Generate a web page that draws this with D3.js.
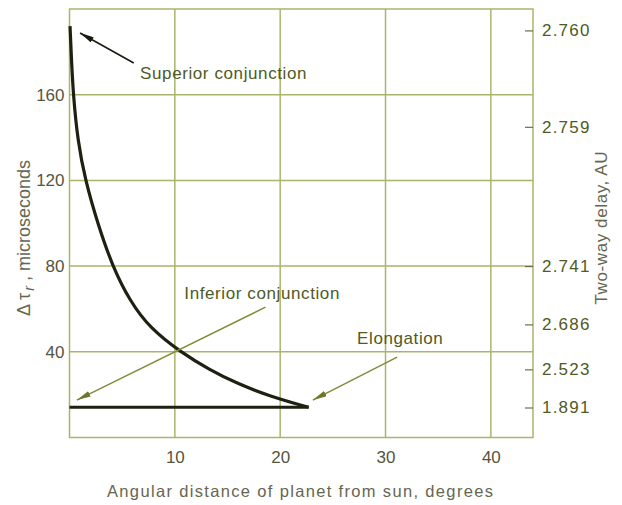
<!DOCTYPE html>
<html><head><meta charset="utf-8">
<script src="https://cdn.jsdelivr.net/npm/d3@7"></script>
<style>body{margin:0;background:#fff}svg{display:block}text{font-family:"Liberation Sans",Arial,sans-serif}</style>
</head><body><svg id="c" width="622" height="505"></svg>
<script>
// Data
const xTicks = [10, 20, 30, 40];
const yTicks = [40, 80, 120, 160];
const curveDeg = [0.05, 0.2, 0.36, 0.78, 1.5, 2.7, 4.07, 5.75, 7.65, 10.5, 13.3, 15.9, 19.0, 22.7];
const curveDelay = [192, 175, 160, 138.5, 120, 99.5, 80, 63.5, 51, 40, 31.6, 25.2, 19.3, 14.1];
const flatDeg = [0, 22.7];
const flatDelay = [14.1, 14.1];
const rightTickLabels = ["2.760", "2.759", "2.741", "2.686", "2.523", "1.891"];
const rightTickAt = [190, 145, 80, 52.8, 31.8, 14];
const annLabels = ["Superior conjunction", "Inferior conjunction", "Elongation"];
const annTextDeg = [6.7, 10.9, 27.3];
const annTextVal = [170, 67.3, 46.3];
const annFromDeg = [6.1, 18.6, 31.1];
const annFromVal = [174.8, 60.8, 37.5];
const annToDeg = [1.0, 0.7, 23.1];
const annToVal = [188.8, 17.5, 17.5];

const svg = d3.select("#c");
const x = d3.scaleLinear().domain([0, 44]).range([69.5, 533]);
const y = d3.scaleLinear().domain([0, 200]).range([437.5, 9]);
const gridC = "#aab56c", textC = "#55553f", annC = "#4f5a25";

// grid
svg.append("g").selectAll("line").data(xTicks).join("line")
  .attr("x1", d => x(d)).attr("x2", d => x(d)).attr("y1", y(0)).attr("y2", y(200))
  .attr("stroke", gridC).attr("stroke-width", 1.5);
svg.append("g").selectAll("line").data(yTicks).join("line")
  .attr("x1", x(0)).attr("x2", x(44)).attr("y1", d => y(d)).attr("y2", d => y(d))
  .attr("stroke", gridC).attr("stroke-width", 1.5);
svg.append("rect").attr("x", x(0)).attr("y", y(200)).attr("width", x(44) - x(0)).attr("height", y(0) - y(200))
  .attr("fill", "none").attr("stroke", gridC).attr("stroke-width", 1.5);

// axes
const ax = d3.axisBottom(x).tickValues(xTicks).tickSize(0).tickPadding(13);
const gx = svg.append("g").attr("transform", `translate(0,${y(0)})`).call(ax);
gx.select(".domain").remove();
gx.selectAll("text").attr("fill", textC).attr("font-size", 17).attr("font-family", "Liberation Sans");

const ay = d3.axisLeft(y).tickValues(yTicks).tickSize(0).tickPadding(5);
const gy = svg.append("g").attr("transform", `translate(${x(0)},0)`).call(ay);
gy.select(".domain").remove();
gy.selectAll("text").attr("fill", textC).attr("font-size", 17).attr("font-family", "Liberation Sans");

const ar = d3.axisRight(y).tickValues(rightTickAt).tickFormat((d, i) => rightTickLabels[i]).tickSize(-8).tickPadding(9);
const gr = svg.append("g").attr("transform", `translate(${x(44)},0)`).call(ar);
gr.select(".domain").remove();
gr.selectAll("line").attr("stroke", "#6d7240").attr("stroke-width", 1.2);
gr.selectAll("text").attr("fill", annC).attr("font-size", 17).attr("font-family", "Liberation Sans").attr("letter-spacing", 1.2);

// axis titles
svg.append("text").attr("x", 300).attr("y", 497).attr("text-anchor", "middle")
  .attr("fill", "#66664f").attr("font-size", 16.5).attr("textLength", 386).attr("lengthAdjust", "spacing")
  .text("Angular distance of planet from sun, degrees");
const lt = svg.append("text").attr("transform", "translate(30,238) rotate(-90)").attr("text-anchor", "middle")
  .attr("fill", "#66664f").attr("font-size", 18);
lt.append("tspan").text("Δ τ");
lt.append("tspan").attr("font-style", "italic").attr("font-size", 14).attr("dy", 4).attr("dx", 2).text("r");
lt.append("tspan").attr("dy", -4).text(" , microseconds");
svg.append("text").attr("transform", "translate(607,228) rotate(-90)").attr("text-anchor", "middle")
  .attr("fill", "#66664f").attr("font-size", 17).attr("textLength", 153).attr("lengthAdjust", "spacing")
  .text("Two-way delay, AU");

// curve
const line = d3.line().x(d => x(d[0])).y(d => y(d[1]));
svg.append("path").datum(flatDeg.map((d, i) => [d, flatDelay[i]]))
  .attr("d", line).attr("fill", "none").attr("stroke", "#1e2012").attr("stroke-width", 3);
svg.append("path").datum(curveDeg.map((d, i) => [d, curveDelay[i]]))
  .attr("d", d3.line().x(d => x(d[0])).y(d => y(d[1])).curve(d3.curveBasis))
  .attr("fill", "none").attr("stroke", "#1e2012").attr("stroke-width", 3.2);

// arrows
const defs = svg.append("defs");
[["ak", "#1a1a10"], ["ag", "#6b7a2a"]].forEach(([id, c]) => {
  defs.append("marker").attr("id", id).attr("viewBox", "0 0 14 6").attr("refX", 14).attr("refY", 3)
    .attr("markerWidth", 14).attr("markerHeight", 6).attr("markerUnits", "userSpaceOnUse").attr("orient", "auto")
    .append("path").attr("d", "M0,0 L14,3 L0,6 Z").attr("fill", c);
});
annLabels.forEach((t, i) => {
  svg.append("line").attr("x1", x(annFromDeg[i])).attr("y1", y(annFromVal[i]))
    .attr("x2", x(annToDeg[i])).attr("y2", y(annToVal[i]))
    .attr("stroke", i === 0 ? "#1a1a10" : "#7d8c35").attr("stroke-width", i === 0 ? 1.6 : 1.4)
    .attr("marker-end", i === 0 ? "url(#ak)" : "url(#ag)");
  svg.append("text").attr("x", x(annTextDeg[i])).attr("y", y(annTextVal[i])).attr("dy", "0.35em")
    .attr("fill", annC).attr("font-size", 17).attr("letter-spacing", 0.6).text(t);
});
</script></body></html>
